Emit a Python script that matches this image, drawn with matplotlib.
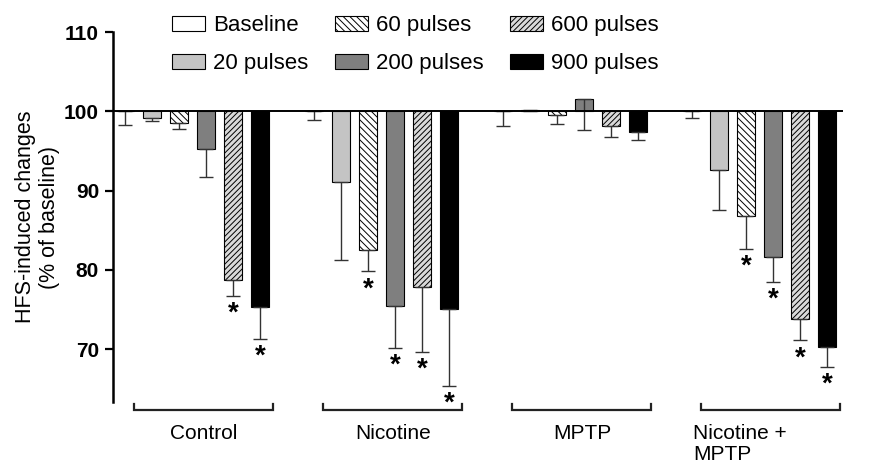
import numpy as np
import matplotlib.pyplot as plt
from matplotlib.patches import Patch

plt.rcParams['font.family'] = ['Liberation Sans', 'DejaVu Sans']
plt.rcParams['hatch.linewidth'] = 0.7

groups = ['Control', 'Nicotine', 'MPTP', 'Nicotine +\nMPTP']
series = ['Baseline', '20 pulses', '60 pulses', '200 pulses', '600 pulses', '900 pulses']

# mean values (% of baseline), one list per group, in series order
control = [100.0, 99.2, 98.5, 95.2, 78.7, 75.3]
nicotine = [100.0, 91.1, 82.5, 75.5, 77.8, 75.1]
mptp = [100.0, 100.2, 99.5, 101.6, 98.1, 97.4]
nic_mptp = [100.0, 92.6, 86.8, 81.6, 73.8, 70.3]

# lower error (SEM)
control_err = [1.7, 0.4, 0.7, 3.5, 2.0, 4.0]
nicotine_err = [1.1, 9.9, 2.7, 5.4, 8.2, 9.7]
mptp_err = [1.9, 0.1, 1.1, 4.0, 1.4, 1.0]
nic_mptp_err = [0.9, 5.1, 4.2, 3.1, 2.7, 2.5]

# significance markers
control_sig = [0, 0, 0, 0, 1, 1]
nicotine_sig = [0, 0, 1, 1, 1, 1]
mptp_sig = [0, 0, 0, 0, 0, 0]
nic_mptp_sig = [0, 0, 1, 1, 1, 1]

means = [control, nicotine, mptp, nic_mptp]
errs = [control_err, nicotine_err, mptp_err, nic_mptp_err]
sigs = [control_sig, nicotine_sig, mptp_sig, nic_mptp_sig]

faces = ['white', '#c4c4c4', 'white', '#7f7f7f', '#d9d9d9', 'black']
hatches = [None, None, '\\\\\\\\\\', None, '//////', None]

fig = plt.figure(figsize=(8.82, 4.65), dpi=100)
ax = fig.add_axes([0.128, 0.135, 0.828, 0.796])

width = 0.65
for g in range(len(groups)):
    for i in range(len(series)):
        x = 7 * g + i
        m = means[g][i]
        ax.bar(x, m - 100, width=width, bottom=100, color=faces[i],
               hatch=hatches[i], edgecolor='black', linewidth=0.8, zorder=2)
        lo = m - errs[g][i]
        ax.errorbar(x, m, yerr=[[errs[g][i]], [0]], fmt='none',
                    ecolor='#333333', elinewidth=1.0, capsize=5, capthick=1.0, zorder=3)
        if sigs[g][i]:
            ax.text(x, lo - 0.6, '*', ha='center', va='top', fontsize=20,
                    fontweight='bold', zorder=3)
    # bracket under each group
    x0, x1 = 7 * g + 0.35, 7 * g + 5.5
    yb, yt = 62.3, 63.1
    ax.plot([x0, x0, x1, x1], [yt, yb, yb, yt], color='#222222', lw=1.6,
            clip_on=False, solid_joinstyle='miter')
    if '\n' in groups[g]:
        ax.text(x0 - 0.3, 60.6, groups[g], ha='left', va='top', fontsize=15,
                linespacing=1.15)
    else:
        ax.text((x0 + x1) / 2, 60.6, groups[g], ha='center', va='top', fontsize=15)

ax.axhline(100, color='black', lw=1.4, zorder=4)
ax.set_xlim(-0.44, 26.6)
ax.set_ylim(63.3, 110)
ax.set_yticks([70, 80, 90, 100, 110])
ax.tick_params(axis='y', labelsize=15, width=1.6, length=6, pad=4)
for lab in ax.get_yticklabels():
    lab.set_fontweight('bold')
ax.set_xticks([])
for s in ['top', 'right', 'bottom']:
    ax.spines[s].set_visible(False)
ax.spines['left'].set_linewidth(1.8)
ax.set_ylabel('HFS-induced changes\n(% of baseline)', fontsize=15.5, labelpad=3,
              linespacing=1.2)

handles = [Patch(facecolor=faces[i], edgecolor='black', hatch=hatches[i], linewidth=0.8)
           for i in range(len(series))]
fig.legend(handles, series, loc='upper left', bbox_to_anchor=(0.172, 1.01), ncol=3,
           frameon=False, fontsize=16, handlelength=1.5, handleheight=0.65,
           handletextpad=0.35, columnspacing=1.2, labelspacing=0.75)

fig.savefig('out.png', dpi=100)
